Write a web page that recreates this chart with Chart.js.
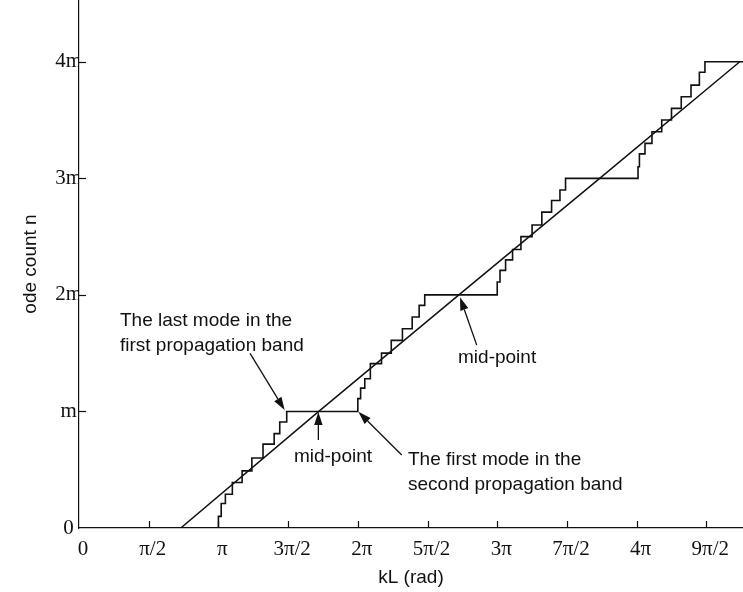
<!DOCTYPE html>
<html><head><meta charset="utf-8">
<script src="https://cdn.jsdelivr.net/npm/chart.js@4.4.0/dist/chart.umd.min.js"></script>
<style>html,body{margin:0;padding:0;background:#fff;overflow:hidden}#wrap{width:743px;height:592px;position:relative}</style>
</head><body><div id="wrap"><canvas id="c" width="743" height="592"></canvas></div>
<script>
// x values are in units of pi (kL / pi); y values in units of m
const xTickValues = [0, 0.5, 1, 1.5, 2, 2.5, 3, 3.5, 4, 4.5];
const xTickLabels = ['0', 'π/2', 'π', '3π/2', '2π', '5π/2', '3π', '7π/2', '4π', '9π/2'];
const yTickValues = [0, 1, 2, 3, 4];
const yTickLabels = ['0', 'm', '2m', '3m', '4m'];

const stairX = [0.62,
  1.00, 1.02, 1.05, 1.10, 1.17, 1.24, 1.32, 1.40, 1.44, 1.49,
  2.00, 2.02, 2.05, 2.09, 2.17, 2.24, 2.32, 2.39, 2.44, 2.48,
  3.00, 3.02, 3.06, 3.11, 3.17, 3.25, 3.32, 3.39, 3.45, 3.49,
  4.01, 4.02, 4.06, 4.11, 4.18, 4.25, 4.32, 4.39, 4.45, 4.49,
  4.763];
const stairY = [0,
  0.10, 0.21, 0.29, 0.39, 0.49, 0.60, 0.72, 0.81, 0.91, 1.00,
  1.11, 1.20, 1.28, 1.41, 1.50, 1.61, 1.71, 1.81, 1.91, 2.00,
  2.11, 2.21, 2.30, 2.39, 2.50, 2.60, 2.71, 2.81, 2.90, 3.00,
  3.10, 3.21, 3.30, 3.40, 3.50, 3.60, 3.70, 3.80, 3.91, 4.00,
  4.00];
const lineX = [0.73, 1.72, 2.725, 3.735, 4.74];
const lineY = [0, 1, 2, 3, 4];

const xTitle = 'kL (rad)';
const yTitle = 'ode count n';

const noteTexts = [
  ['The last mode in the', 'first propagation band'],
  ['mid-point'],
  ['The first mode in the', 'second propagation band'],
  ['mid-point']
];
// annotation anchors in data units (x in pi, y in m)
const noteAnchors = [
  {x: 0.294, y: 1.78, align: 'left'},
  {x: 1.822, y: 0.61, align: 'center'},
  {x: 2.36, y: 0.585, align: 'left'},
  {x: 2.999, y: 1.46, align: 'center'}
];
const noteArrows = [
  {x0: 1.227, y0: 1.498, x1: 1.475, y1: 1.012},
  {x0: 1.717, y0: 0.755, x1: 1.717, y1: 0.995},
  {x0: 2.315, y0: 0.626, x1: 2.004, y1: 0.997},
  {x0: 2.853, y0: 1.569, x1: 2.733, y1: 1.98}
];

const INK = '#111';
const SANS = '"Liberation Sans", Arial, sans-serif';
const SERIF = '"Liberation Serif", "Times New Roman", serif';

const decor = {
  id: 'decor',
  afterDraw(chart) {
    const ctx = chart.ctx, xs = chart.scales.x, ys = chart.scales.y;
    ctx.save();
    ctx.strokeStyle = INK; ctx.fillStyle = INK; ctx.lineWidth = 1.2;
    const base = ys.getPixelForValue(0), left = xs.getPixelForValue(0);
    xTickValues.forEach(v => {
      if (v === 0) return;
      const px = Math.round(xs.getPixelForValue(v)) + 0.5;
      ctx.beginPath(); ctx.moveTo(px, base); ctx.lineTo(px, base - 7); ctx.stroke();
    });
    yTickValues.forEach(v => {
      if (v === 0) return;
      const py = Math.round(ys.getPixelForValue(v)) + 0.5;
      ctx.beginPath(); ctx.moveTo(left - 1, py); ctx.lineTo(left + 7, py); ctx.stroke();
    });
    noteArrows.forEach(a => {
      const x0 = xs.getPixelForValue(a.x0), y0 = ys.getPixelForValue(a.y0);
      const x1 = xs.getPixelForValue(a.x1), y1 = ys.getPixelForValue(a.y1);
      const ang = Math.atan2(y1 - y0, x1 - x0);
      const L = 13, W = 4.2;
      const bx = x1 - L * Math.cos(ang), by = y1 - L * Math.sin(ang);
      ctx.lineWidth = 1.3;
      ctx.beginPath(); ctx.moveTo(x0, y0); ctx.lineTo(bx, by); ctx.stroke();
      ctx.beginPath();
      ctx.moveTo(x1, y1);
      ctx.lineTo(bx + W * Math.sin(ang), by - W * Math.cos(ang));
      ctx.lineTo(bx - W * Math.sin(ang), by + W * Math.cos(ang));
      ctx.closePath(); ctx.fill();
    });
    ctx.font = '19px ' + SANS;
    ctx.textBaseline = 'middle';
    noteTexts.forEach((lines, i) => {
      const an = noteAnchors[i];
      const px = xs.getPixelForValue(an.x), py = ys.getPixelForValue(an.y);
      ctx.textAlign = an.align;
      lines.forEach((t, k) => ctx.fillText(t, px, py + k * 25));
    });
    ctx.restore();
  }
};

new Chart(document.getElementById('c'), {
  type: 'scatter',
  data: {
    datasets: [
      {
        data: stairX.map((x, i) => ({x, y: stairY[i]})),
        showLine: true, stepped: 'before', borderColor: INK, borderWidth: 1.6,
        pointRadius: 0, fill: false
      },
      {
        data: lineX.map((x, i) => ({x, y: lineY[i]})),
        showLine: true, borderColor: INK, borderWidth: 1.5, tension: 0,
        pointRadius: 0, fill: false
      }
    ]
  },
  options: {
    responsive: false, animation: false, devicePixelRatio: 1,
    layout: {padding: 0},
    plugins: {legend: {display: false}, tooltip: {enabled: false}, title: {display: false}},
    scales: {
      x: {
        type: 'linear', min: 0, max: 4.763,
        afterBuildTicks: s => { s.ticks = xTickValues.map(v => ({value: v})); },
        afterFit: s => { s.height = 64; s.paddingLeft = 0; s.paddingRight = 0; },
        grid: {display: false, drawTicks: false},
        border: {display: true, color: INK, width: 1.2},
        ticks: {
          autoSkip: false, maxRotation: 0, minRotation: 0, padding: 9, labelOffset: 4,
          color: INK, font: {family: SERIF, size: 21},
          callback: (v, i) => xTickLabels[i]
        },
        title: {display: true, text: xTitle, color: INK, font: {family: SANS, size: 19}, padding: {top: 0, bottom: 3}}
      },
      y: {
        type: 'linear', min: 0, max: 4.53,
        afterBuildTicks: s => { s.ticks = yTickValues.map(v => ({value: v})); },
        afterFit: s => { s.width = 79; s.paddingTop = 0; s.paddingBottom = 0; },
        grid: {display: false, drawTicks: false},
        border: {display: true, color: INK, width: 1.2},
        ticks: {
          autoSkip: false, padding: -3, crossAlign: 'center',
          color: INK, font: {family: SERIF, size: 21},
          callback: (v, i) => yTickLabels[i]
        },
        title: {display: true, text: yTitle, color: INK, font: {family: SANS, size: 19}, padding: {top: 19, bottom: 0}}
      }
    }
  },
  plugins: [decor]
});
</script>
</body></html>
